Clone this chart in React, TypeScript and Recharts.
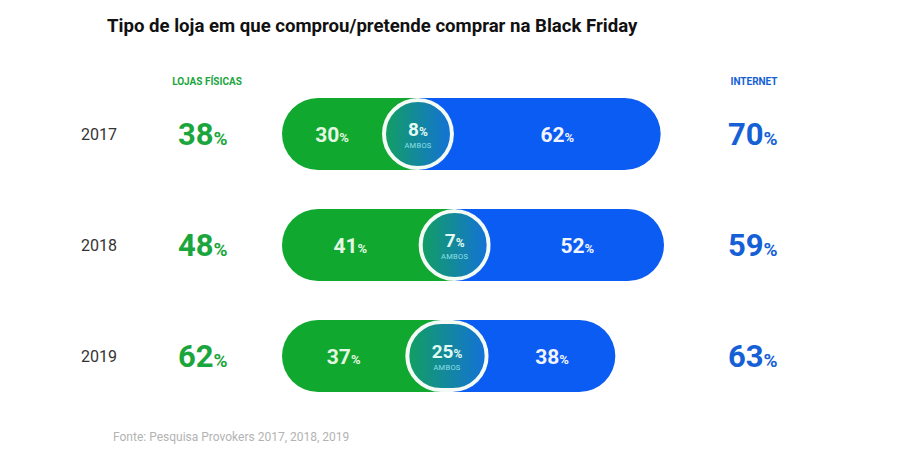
import { BarChart, Bar, XAxis, YAxis } from "recharts";

const years = ["2017", "2018", "2019"];
const soFisicas = [30, 41, 37];
const ambos = [8, 7, 25];
const soInternet = [62, 52, 38];
const totalFisicas = [38, 48, 62];
const totalInternet = [70, 59, 63];

const GREEN = "#10a82f";
const BLUE = "#0b5cf3";
const GREEN_TEXT = "#1ba63d";
const BLUE_TEXT = "#1660d6";

const data = years.map((year, i) => ({
  year,
  fisicas: soFisicas[i],
  ambos: ambos[i],
  internet: soInternet[i],
}));

function Pct({ x, y, value, size, fill }: any) {
  return (
    <text x={x} y={y} textAnchor="middle" fill={fill} fontWeight={700}>
      <tspan fontSize={size}>{value}</tspan>
      <tspan fontSize={Math.round(size * 0.62)}>%</tspan>
    </text>
  );
}

// green: rounded on the left, runs on under the middle circle
function GreenShape(props: any) {
  const { x, y, width, height, payload } = props;
  const r = height / 2;
  const s = width / payload.fisicas;
  const midW = Math.max(payload.ambos * s, height);
  const end = x + width + midW / 2;
  const d = `M${x + r},${y} L${end},${y} L${end},${y + height} L${x + r},${y + height} A${r} ${r} 0 0 1 ${x + r},${y} Z`;
  return (
    <g>
      <path d={d} fill={GREEN} />
      <Pct x={x + width / 2} y={y + r + 8} value={payload.fisicas} size={21} fill="#e4f7e2" />
    </g>
  );
}

// "ambos": a circle, or a pill when the share is wider than the bar is tall
function AmbosShape(props: any) {
  const { x, y, width, height, payload } = props;
  const r = height / 2;
  const midW = Math.max(width, height);
  return (
    <g>
      <rect x={x} y={y} width={midW} height={height} rx={r} ry={r} fill="url(#ambosGrad)" />
      <rect x={x + 2} y={y + 2} width={midW - 4} height={height - 4} rx={r - 2} ry={r - 2} fill="none" stroke="#f4fbf4" strokeWidth={4} />
      <Pct x={x + midW / 2} y={y + r + 2} value={payload.ambos} size={19} fill="#e2fbf0" />
      <text x={x + midW / 2} y={y + r + 14} textAnchor="middle" fontSize={7.5} fill="#8fe0e6" letterSpacing={0.3}>
        AMBOS
      </text>
    </g>
  );
}

// blue: concave on the left so it hugs the middle circle, rounded on the right
function BlueShape(props: any) {
  const { x, y, width, height, payload } = props;
  const r = height / 2;
  const s = width / payload.internet;
  const w = payload.ambos * s;
  const midW = Math.max(w, height);
  const start = x - w + midW;
  const cx = start - r;
  const end = start + width;
  const d = `M${cx},${y} L${end - r},${y} A${r} ${r} 0 0 1 ${end - r},${y + height} L${cx},${y + height} A${r} ${r} 0 0 0 ${cx},${y} Z`;
  return (
    <g>
      <path d={d} fill={BLUE} />
      <Pct x={(start + end) / 2} y={y + r + 8} value={payload.internet} size={21} fill="#f2f5ff" />
    </g>
  );
}

function YearTick(props: any) {
  const { y, payload, index } = props;
  return (
    <g>
      <text x={81} y={y + 6} fontSize={16} fill="#333">
        {payload.value}
      </text>
      <text x={178} y={y + 11} fill={GREEN_TEXT} fontWeight={700}>
        <tspan fontSize={31}>{totalFisicas[index]}</tspan>
        <tspan fontSize={19}>%</tspan>
      </text>
      <text x={728} y={y + 11} fill={BLUE_TEXT} fontWeight={700}>
        <tspan fontSize={31}>{totalInternet[index]}</tspan>
        <tspan fontSize={19}>%</tspan>
      </text>
    </g>
  );
}

export default function App() {
  return (
    <div style={{ position: "absolute", left: 0, top: 0, width: 900, height: 450, background: "#fff", fontFamily: "Roboto, sans-serif" }}>
      <BarChart
        width={900}
        height={450}
        data={data}
        layout="vertical"
        margin={{ top: 78, right: 218, bottom: 39, left: 222 }}
        barSize={72}
      >
        <defs>
          <linearGradient id="ambosGrad" x1="0" y1="0" x2="1" y2="0">
            <stop offset="0%" stopColor="#12a05e" />
            <stop offset="100%" stopColor="#1470dc" />
          </linearGradient>
        </defs>
        <XAxis type="number" domain={[0, 120]} hide />
        <YAxis type="category" dataKey="year" width={60} axisLine={false} tickLine={false} tick={<YearTick />} />
        <Bar dataKey="fisicas" stackId="a" fill={GREEN} shape={<GreenShape />} isAnimationActive={false} />
        <Bar dataKey="ambos" stackId="a" fill="#1288a0" shape={<AmbosShape />} isAnimationActive={false} />
        <Bar dataKey="internet" stackId="a" fill={BLUE} shape={<BlueShape />} isAnimationActive={false} />
      </BarChart>
      <svg width={900} height={450} style={{ position: "absolute", left: 0, top: 0, pointerEvents: "none" }}>
        <text x={107} y={32} fontSize={18.6} fontWeight={700} fill="#111">
          Tipo de loja em que comprou/pretende comprar na Black Friday
        </text>
        <text x={207} y={85} textAnchor="middle" fontSize={10} fontWeight={700} fill={GREEN_TEXT}>
          LOJAS FÍSICAS
        </text>
        <text x={754} y={85} textAnchor="middle" fontSize={10} fontWeight={700} fill={BLUE_TEXT}>
          INTERNET
        </text>
        <text x={113} y={441} fontSize={12} fill="#b3b3b3">
          Fonte: Pesquisa Provokers 2017, 2018, 2019
        </text>
      </svg>
    </div>
  );
}
